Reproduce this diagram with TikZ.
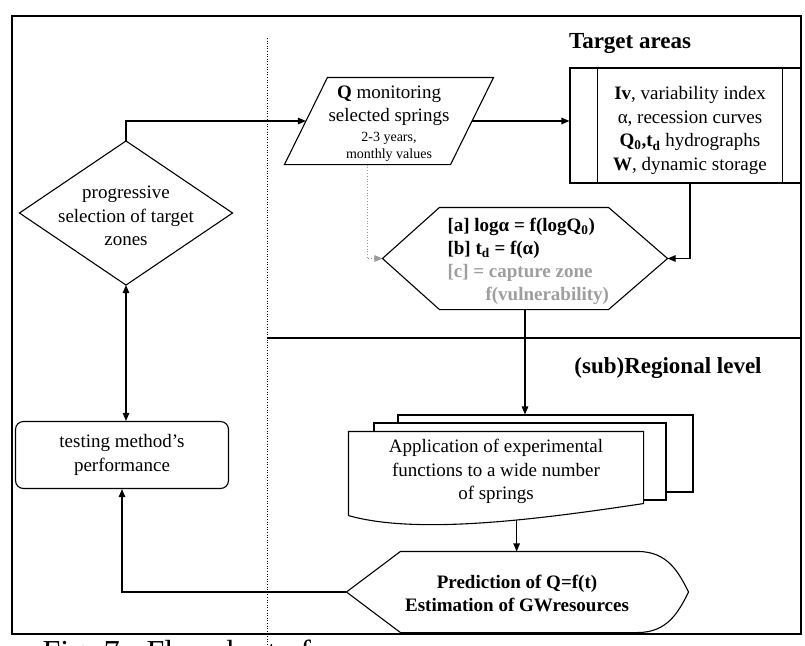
\documentclass[tikz,border=0pt]{standalone}
\usepackage{fontspec}
\setmainfont{Liberation Serif}
\usetikzlibrary{arrows.meta,calc}
\begin{document}
\begin{tikzpicture}[x=1pt,y=-1pt,line width=1.1pt,
  shp/.style={draw=none,inner sep=0pt},
  txt/.style={font=\fontsize{19}{23.5}\selectfont,align=center,inner sep=0pt},
  btxt/.style={font=\fontsize{19}{23}\selectfont\bfseries,align=center,inner sep=0pt},
  ttl/.style={font=\fontsize{23}{27}\selectfont\bfseries,inner sep=0pt},
  arr/.style={-{Triangle[length=8pt,width=6.5pt]}},
  darr/.style={{Triangle[length=8pt,width=6.5pt]}-{Triangle[length=8pt,width=6.5pt]}}]
\useasboundingbox (0,0) rectangle (805,645);
\fill[white] (0,0) rectangle (805,645);
% frame and separators
\draw[line width=1.3pt] (12,16) rectangle (801,634);
\draw[line width=0.6pt,dotted] (267,38) -- (267,645);
\draw[line width=2pt] (267,338) -- (801,338);
% titles
\node[ttl] (tgt) at (630,44) {Target areas};
\node[ttl] (reg) at (668,368) {(sub)Regional level};
% decision diamond
\node[shp,minimum width=212pt,minimum height=143pt] (sel) at (126,213) {};
\draw (sel.north) -- (sel.east) -- (sel.south) -- (sel.west) -- cycle;
\node[txt] (selt) at (126,216) {progressive\\selection of target\\zones};
% testing box
\node[txt,draw,rounded corners=8pt,minimum width=213pt,minimum height=67pt] (test) at (122,455) {testing method's\\performance};
% parallelogram
\node[shp,minimum width=208pt,minimum height=86pt] (qmon) at (389,121) {};
\draw (qmon.south west) -- ($(qmon.north west)+(43,0)$) -- (qmon.north east) -- ($(qmon.south east)+(-43,0)$) -- cycle;
\node[txt] (qmont) at (389,106) {\textbf{Q} monitoring\\selected springs};
\node[font=\fontsize{14}{17}\selectfont,align=center,inner sep=0pt] (qmons) at (389,147) {2-3 years,\\monthly values};
\coordinate (qin) at ($(qmon.west)+(21.5,0)$);
\coordinate (qout) at ($(qmon.east)+(-21.5,0)$);
% predefined process box
\node[shp,draw,minimum width=231pt,minimum height=115pt] (box) at (685.5,125.5) {};
\draw ($(box.north west)+(28,0)$) -- ($(box.south west)+(28,0)$);
\draw ($(box.north east)+(-19,0)$) -- ($(box.south east)+(-19,0)$);
\node[txt] (boxt) at (690,130.5) {\textbf{Iv}, variability index\\α, recession curves\\\textbf{Q\textsubscript{0},t\textsubscript{d}} hydrographs\\\textbf{W}, dynamic storage};
% hexagon
\node[shp,minimum width=284pt,minimum height=101pt] (hex) at (525,258.5) {};
\draw (hex.west) -- ($(hex.north west)+(57,0)$) -- ($(hex.north east)+(-59,0)$) -- (hex.east) -- ($(hex.south east)+(-59,0)$) -- ($(hex.south west)+(57,0)$) -- cycle;
\node[btxt,align=left,anchor=west] (hext) at (447,261) {[a] logα = f(logQ\textsubscript{0})\\{[b]} t\textsubscript{d} = f(α)\\\textcolor{black!38}{[c] = capture zone}\\\hspace*{38pt}\textcolor{black!38}{f(vulnerability)}};
% stacked documents
\node[shp,draw,fill=white,minimum width=295pt,minimum height=77pt] (doc3) at (545.5,453.5) {};
\node[shp,draw,fill=white,minimum width=292pt,minimum height=77pt] (doc2) at (520,461.5) {};
\node[shp,minimum width=294pt,minimum height=83pt] (doc1) at (496,473.5) {};
\draw[fill=white] (doc1.south west) -- (doc1.north west) -- (doc1.north east) -- ($(doc1.south east)+(0,-12)$)
  .. controls ($(doc1.south east)+(-100,3)$) and ($(doc1.south west)+(70,20)$) .. (doc1.south west) coordinate[pos=0.4] (d1b);
\node[txt] (doct) at (496,471.5) {Application of experimental\\functions to a wide number\\of springs};
% display shape
\node[shp,minimum width=341pt,minimum height=80pt] (pred) at (517.5,592) {};
\draw (pred.west) -- ($(pred.north west)+(54,0)$) -- ($(pred.north east)+(-51,0)$)
  .. controls +(30,0) and +(-10,-20) .. (pred.east)
  .. controls +(-10,20) and +(30,0) .. ($(pred.south east)+(-51,0)$)
  -- ($(pred.south west)+(54,0)$) -- cycle;
\node[btxt] (predt) at (517,593.5) {Prediction of Q=f(t)\\Estimation of GWresources};
% connectors
\draw[arr] (sel.north) |- (qin);
\draw[arr] (qout) -- (qout -| box.west);
\draw[arr] (boxt.center |- box.south) |- (hex.east);
\draw[arr,black!40,dotted,line width=0.8pt] ($(qmon.south)+(-22,0)$) |- (hex.west);
\draw[arr] (hex.south) -- (hex.south |- doc3.north);
\draw[arr] (d1b) -- (d1b |- pred.north);
\draw[arr] (pred.west) -| (test.south);
\draw[darr] (sel.south) -- (sel.south |- test.north);
% caption (cut off at the bottom edge, as in the scan)
\begin{scope}
\clip (0,0) rectangle (805,645);
\node[font=\fontsize{32}{36}\selectfont,anchor=base west,inner sep=0pt] (cap) at (42,662) {Fig. 7 - Flowchart of};
\end{scope}
\end{tikzpicture}
\end{document}
